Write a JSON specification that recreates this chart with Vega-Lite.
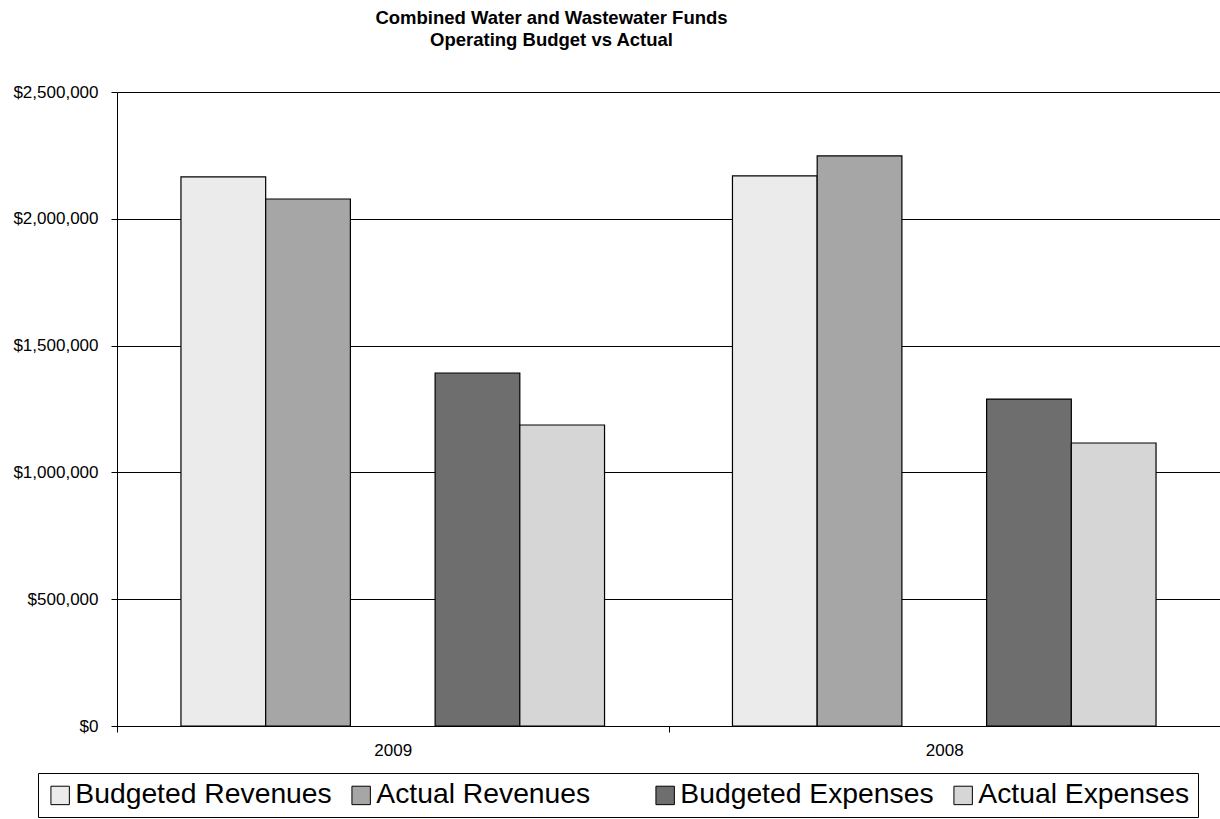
{
  "$schema": "https://vega.github.io/schema/vega-lite/v6.json",
  "width": 1103,
  "height": 634,
  "autosize": {"type": "none"},
  "padding": {"left": 117, "top": 92, "right": 0, "bottom": 93},
  "background": "white",
  "title": {
    "text": ["Combined Water and Wastewater Funds", "Operating Budget vs Actual"],
    "font": "Liberation Sans",
    "fontSize": 18.5,
    "fontWeight": "bold",
    "color": "black",
    "lineHeight": 22,
    "anchor": "middle",
    "dx": -117,
    "offset": 34
  },
  "data": {
    "values": [
      {"year": "2009", "series": "Budgeted Revenues", "amount": 2165000},
      {"year": "2009", "series": "Actual Revenues", "amount": 2078000},
      {"year": "2009", "series": "Budgeted Expenses", "amount": 1392000},
      {"year": "2009", "series": "Actual Expenses", "amount": 1187000},
      {"year": "2008", "series": "Budgeted Revenues", "amount": 2169000},
      {"year": "2008", "series": "Actual Revenues", "amount": 2248000},
      {"year": "2008", "series": "Budgeted Expenses", "amount": 1289000},
      {"year": "2008", "series": "Actual Expenses", "amount": 1116000}
    ]
  },
  "mark": {"type": "bar", "stroke": "black", "strokeWidth": 1.2, "fillOpacity": 1},
  "encoding": {
    "x": {
      "field": "year",
      "type": "nominal",
      "sort": ["2009", "2008"],
      "title": null,
      "scale": {"paddingInner": 0, "paddingOuter": 0},
      "axis": {
        "labelAngle": 0,
        "labelFont": "Liberation Sans",
        "labelFontSize": 17,
        "labelColor": "black",
        "labelPadding": 10,
        "tickBand": "extent",
        "tickSize": 6,
        "tickColor": "black",
        "domainColor": "black",
        "grid": false
      }
    },
    "xOffset": {
      "field": "series",
      "type": "nominal",
      "scale": {
        "domain": ["Budgeted Revenues", "Actual Revenues", "", "Budgeted Expenses", "Actual Expenses"],
        "paddingInner": 0,
        "paddingOuter": 0.755
      }
    },
    "y": {
      "field": "amount",
      "type": "quantitative",
      "title": null,
      "scale": {"domain": [0, 2500000], "nice": false},
      "axis": {
        "values": [0, 500000, 1000000, 1500000, 2000000, 2500000],
        "format": "$,.0f",
        "labelFont": "Liberation Sans",
        "labelFontSize": 17,
        "labelColor": "black",
        "labelPadding": 13,
        "tickSize": 6,
        "tickColor": "black",
        "domainColor": "black",
        "grid": true,
        "gridColor": "black",
        "gridOpacity": 1,
        "gridWidth": 1
      }
    },
    "color": {
      "field": "series",
      "type": "nominal",
      "scale": {
        "domain": ["Budgeted Revenues", "Actual Revenues", "", "Budgeted Expenses", "Actual Expenses"],
        "range": ["#ebebeb", "#a6a6a6", "transparent", "#6e6e6e", "#d6d6d6"]
      },
      "legend": {
        "title": null,
        "orient": "none",
        "legendX": -79,
        "legendY": 681,
        "direction": "horizontal",
        "columns": 5,
        "columnPadding": 15,
        "padding": 8,
        "strokeColor": "black",
        "fillColor": "white",
        "symbolType": "square",
        "symbolSize": 340,
        "symbolStrokeColor": "black",
        "symbolStrokeWidth": 1,
        "symbolOpacity": 1,
        "labelFont": "Liberation Sans",
        "labelFontSize": 28.3,
        "labelColor": "black",
        "labelOffset": 1,
        "labelLimit": 0,
        "encode": {
          "symbols": {
            "update": {
              "stroke": {"signal": "datum.value === '' ? 'transparent' : 'black'"}
            }
          }
        }
      }
    }
  },
  "config": {
    "view": {"stroke": null},
    "axis": {"domainWidth": 1, "tickWidth": 1}
  }
}
